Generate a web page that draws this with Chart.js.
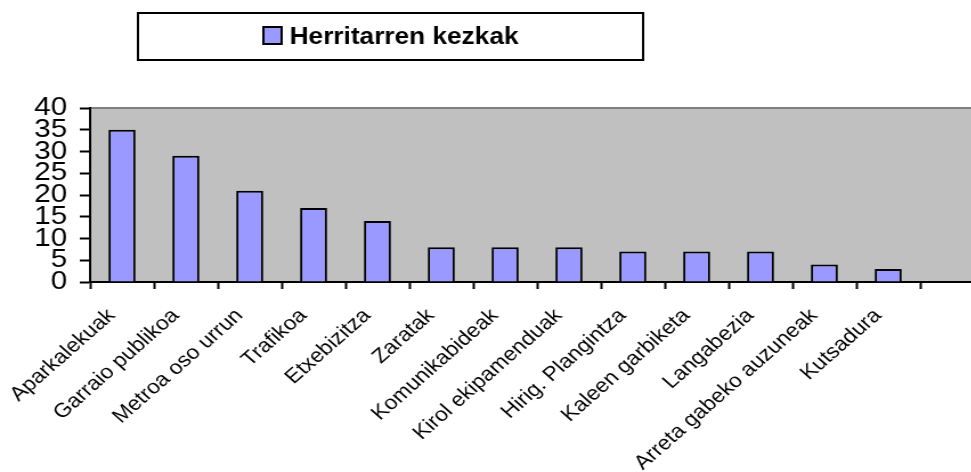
<!DOCTYPE html>
<html>
<head>
<meta charset="utf-8">
<script src="https://cdn.jsdelivr.net/npm/chart.js@4/dist/chart.umd.min.js"></script>
<style>
  html, body { margin: 0; padding: 0; overflow: hidden; background: #fff; }
  #wrap { width: 971px; height: 472px; overflow: hidden; }
  canvas { display: block; }
</style>
</head>
<body>
<div id="wrap">
  <canvas id="c" width="863" height="480" style="width:984px;height:480px;"></canvas>
</div>
<script>
// ---- Data ----
const categories = [
  'Aparkalekuak', 'Garraio publikoa', 'Metroa oso urrun', 'Trafikoa', 'Etxebizitza',
  'Zaratak', 'Komunikabideak', 'Kirol ekipamenduak', 'Hirig. Plangintza',
  'Kaleen garbiketa', 'Langabezia', 'Arreta gabeko auzuneak', 'Kutsadura', ''
];
const seriesName = 'Herritarren kezkak';
const seriesValues = [35, 29, 21, 17, 14, 8, 8, 8, 7, 7, 7, 4, 3, null];
const yTicks = [0, 5, 10, 15, 20, 25, 30, 35, 40];

const FONT = '"Liberation Sans", Arial, sans-serif';
const BAR_COLOR = '#9999FF';

const plotBg = {
  id: 'plotBg',
  beforeDraw(chart) {
    const {ctx, chartArea: a} = chart;
    ctx.save();
    ctx.fillStyle = '#C0C0C0';
    ctx.fillRect(a.left, a.top, a.right - a.left, a.bottom - a.top);
    ctx.strokeStyle = '#808080';
    ctx.lineWidth = 2;
    ctx.beginPath();
    ctx.moveTo(a.left, a.top);
    ctx.lineTo(a.right, a.top);
    ctx.stroke();
    ctx.restore();
  }
};

const legendBox = {
  id: 'legendBox',
  afterDraw(chart) {
    const ctx = chart.ctx;
    ctx.save();
    ctx.strokeStyle = '#000';
    ctx.lineWidth = 2;
    ctx.strokeRect(121, 13, 443, 47);
    ctx.fillStyle = BAR_COLOR;
    ctx.fillRect(231, 27, 16, 17);
    ctx.strokeRect(231, 27, 16, 17);
    ctx.fillStyle = '#000';
    ctx.font = 'bold 23px ' + FONT;
    ctx.textBaseline = 'alphabetic';
    ctx.textAlign = 'left';
    ctx.fillText(chart.data.datasets[0].label, 254, 44);
    ctx.restore();
  }
};

new Chart(document.getElementById('c'), {
  type: 'bar',
  data: {
    labels: categories,
    datasets: [{
      label: seriesName,
      data: seriesValues,
      backgroundColor: BAR_COLOR,
      borderColor: '#000',
      borderWidth: 2,
      borderSkipped: 'start',
      barPercentage: 0.423,
      categoryPercentage: 1
    }]
  },
  options: {
    responsive: false,
    animation: false,
    devicePixelRatio: 1,
    layout: { padding: { top: 108, left: 0, right: 0, bottom: 0 } },
    plugins: { legend: { display: false }, title: { display: false }, tooltip: { enabled: false } },
    scales: {
      x: {
        offset: true,
        grid: { offset: true, drawOnChartArea: false, drawTicks: true, tickLength: 7, tickColor: '#000', tickWidth: 2 },
        border: { color: '#000', width: 2 },
        ticks: {
          autoSkip: false, maxRotation: 45, minRotation: 45, padding: 15, labelOffset: -9,
          color: '#000', font: { family: FONT, size: 20 }
        },
        afterFit(scale) {
          scale.height = 480 - 282;
          scale.paddingLeft = 0;
          scale.paddingRight = 0;
        }
      },
      y: {
        min: 0, max: 40,
        afterBuildTicks(scale) { scale.ticks = yTicks.map(v => ({ value: v })); },
        grid: { drawOnChartArea: false, drawTicks: true, tickLength: 9, tickColor: '#000', tickWidth: 2 },
        border: { color: '#000', width: 2 },
        ticks: {
          autoSkip: false, padding: 11, color: '#000',
          font: { family: FONT, size: 26 }
        },
        afterFit(scale) { scale.width = 79; scale.paddingTop = 0; scale.paddingBottom = 0; }
      }
    }
  },
  plugins: [plotBg, legendBox]
});
</script>
</body>
</html>
